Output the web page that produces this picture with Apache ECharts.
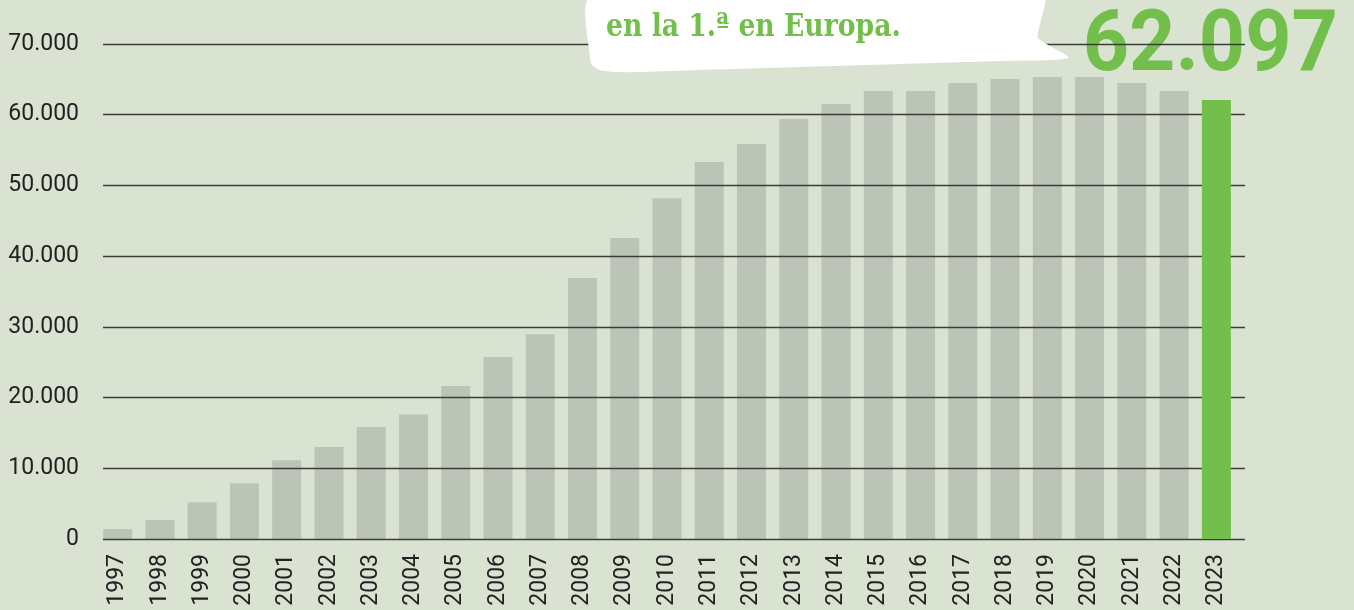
<!DOCTYPE html>
<html>
<head>
<meta charset="utf-8">
<script src="https://cdn.jsdelivr.net/npm/echarts@6/dist/echarts.min.js"></script>
<style>
  html, body { margin: 0; padding: 0; background: #dae3d2; }
  #chart { width: 1354px; height: 610px; }
</style>
</head>
<body>
<div id="chart"></div>
<script>
// datos
const years = ['1997', '1998', '1999', '2000', '2001', '2002', '2003', '2004', '2005',
  '2006', '2007', '2008', '2009', '2010', '2011', '2012', '2013', '2014', '2015',
  '2016', '2017', '2018', '2019', '2020', '2021', '2022', '2023'];
const values = [1400, 2700, 5200, 7900, 11150, 13000, 15850, 17600, 21650,
  25750, 28950, 36900, 42550, 48200, 53300, 55850, 59400, 61500, 63350,
  63350, 64500, 65050, 65350, 65350, 64500, 63350, 62097];
const yTicks = [0, 10000, 20000, 30000, 40000, 50000, 60000, 70000];
const bigLabel = '62.097';
const bubbleText = 'en la 1.ª en Europa.';

const bg = '#dae3d2';
const greyBar = '#bbc4b7';
const green = '#72bf4c';

const last = values.length - 1;
const greySeries = values.map((v, i) => (i === last ? '-' : v));
const greenSeries = values.map((v, i) => (i === last ? v : '-'));

function fmt(v) {
  return String(v).replace(/\B(?=(\d{3})+(?!\d))/g, '.');
}

// contorno del bocadillo (decoracion)
const bubblePoints = [
  [590, -2], [1044, -2], [1041, 20], [1038, 38], [1069, 58],
  [1000, 61], [900, 64], [800, 67], [700, 70], [640, 72], [615, 72],
  [600, 70], [592, 65], [590, 58]
];

const chart = echarts.init(document.getElementById('chart'));

const option = {
  backgroundColor: bg,
  animation: false,
  grid: [
    // lineas + etiquetas del eje y
    { left: 103, right: 109, top: 44, bottom: 71 },
    // barras
    { left: 96.5, right: 116.5, top: 44, bottom: 71 }
  ],
  xAxis: [
    { gridIndex: 0, type: 'value', show: false },
    {
      gridIndex: 1,
      type: 'category',
      data: years,
      axisLine: { show: false },
      axisTick: { show: false },
      axisLabel: {
        rotate: 90,
        margin: 15,
        color: '#222',
        fontFamily: 'Roboto',
        fontSize: 23
      }
    }
  ],
  yAxis: [
    {
      gridIndex: 0,
      type: 'value',
      min: yTicks[0],
      max: yTicks[yTicks.length - 1],
      interval: 10000,
      z: 3,
      axisLine: { show: false },
      axisTick: { show: false },
      axisLabel: {
        margin: 24,
        color: '#222',
        fontFamily: 'Roboto',
        fontSize: 23,
        formatter: fmt
      },
      splitLine: { lineStyle: { color: '#3a3d38', width: 1.4 } }
    },
    {
      gridIndex: 1,
      type: 'value',
      min: yTicks[0],
      max: yTicks[yTicks.length - 1],
      show: false
    }
  ],
  series: [
    {
      type: 'bar',
      xAxisIndex: 1,
      yAxisIndex: 1,
      data: greySeries,
      barWidth: 29,
      z: 2,
      itemStyle: { color: greyBar }
    },
    {
      type: 'bar',
      xAxisIndex: 1,
      yAxisIndex: 1,
      data: greenSeries,
      barWidth: 29,
      barGap: '-100%',
      z: 5,
      itemStyle: { color: green }
    }
  ],
  graphic: [
    {
      type: 'polygon',
      z: 10,
      shape: { points: bubblePoints, smooth: 0.2 },
      style: { fill: '#ffffff' }
    },
    {
      type: 'text',
      z: 11,
      x: 606,
      y: 28,
      scaleX: 0.86,
      style: {
        text: bubbleText,
        fill: green,
        fontFamily: 'DejaVu Serif',
        fontWeight: 'bold',
        fontSize: 31,
        align: 'left',
        verticalAlign: 'middle'
      }
    },
    {
      type: 'text',
      z: 1,
      x: 1338,
      y: 48,
      scaleX: 0.94,
      style: {
        text: bigLabel,
        fill: green,
        fontFamily: 'Roboto',
        fontWeight: 'bold',
        fontSize: 86,
        align: 'right',
        verticalAlign: 'middle'
      }
    }
  ]
};

chart.setOption(option);
window.addEventListener('resize', () => {
  chart.resize();
});
</script>
</body>
</html>
